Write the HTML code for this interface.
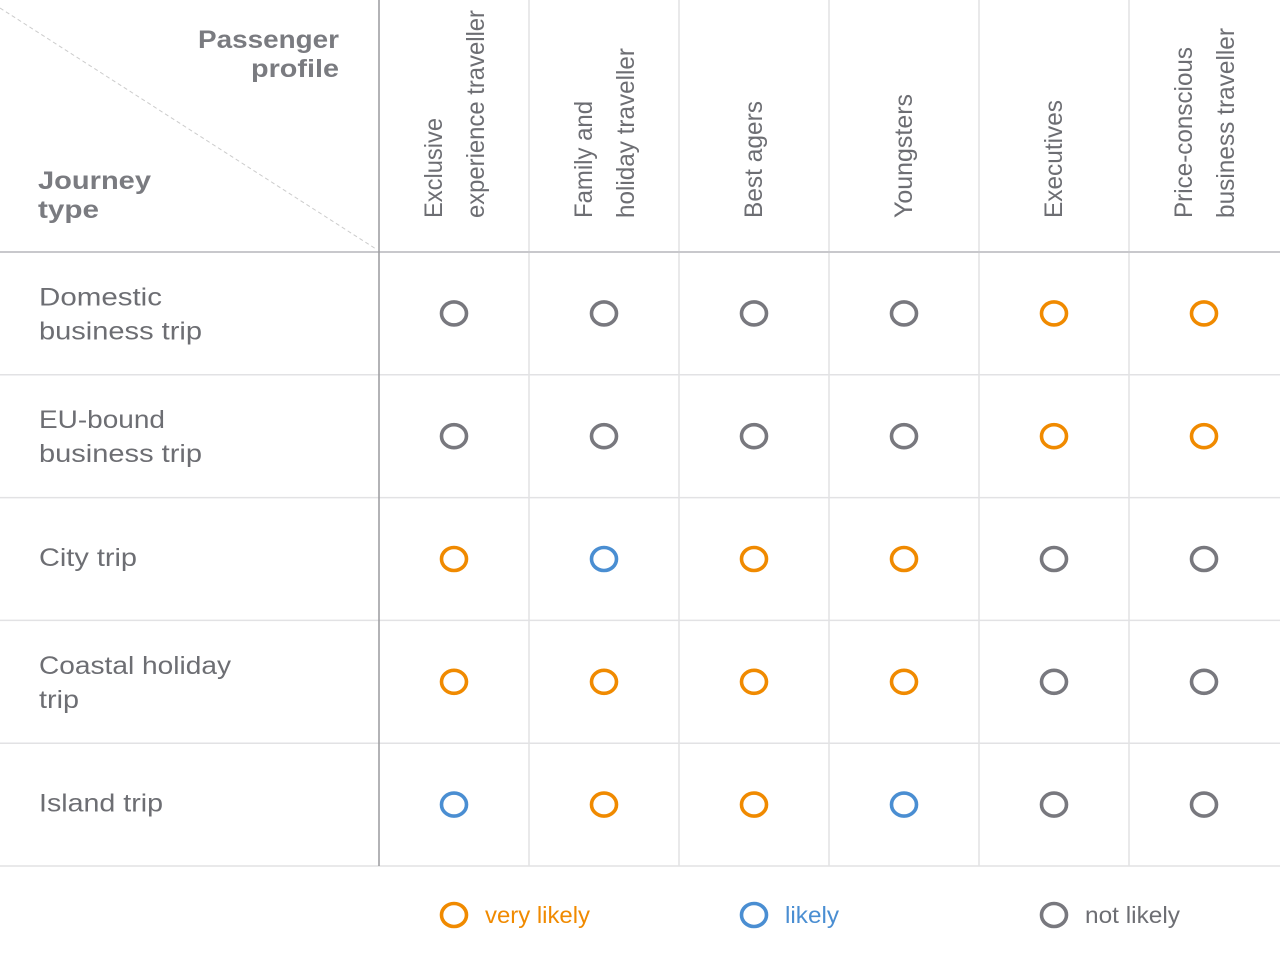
<!DOCTYPE html>
<html><head><meta charset="utf-8"><style>
html,body{margin:0;padding:0;background:#fff;}
svg{display:block;font-family:"Liberation Sans",sans-serif;}
</style></head><body>
<svg id="chart" width="1280" height="960" viewBox="0 0 1280 960">
<line x1="0" y1="8" x2="376" y2="249" stroke="#ccc" stroke-width="1" stroke-dasharray="4,3"/>
<text font-size="25" font-weight="bold" fill="#7a7b80"><tspan x="198" y="48" textLength="141" lengthAdjust="spacingAndGlyphs">Passenger</tspan><tspan x="251" y="77" textLength="88" lengthAdjust="spacingAndGlyphs">profile</tspan></text>
<text font-size="25" font-weight="bold" fill="#7a7b80"><tspan x="38" y="189" textLength="113" lengthAdjust="spacingAndGlyphs">Journey</tspan><tspan x="38" y="218" textLength="61" lengthAdjust="spacingAndGlyphs">type</tspan></text>
<g id="grid"></g><g id="labels"></g><g id="marks"></g><g id="legend"></g>
</svg>
<script>
const profiles = [["Exclusive","experience traveller"],["Family and","holiday traveller"],["Best agers"],["Youngsters"],["Executives"],["Price-conscious","business traveller"]];
const profileLens = [[100,208],[117,170],[117],[124],[118],[171,190]];
const journeys = [["Domestic","business trip"],["EU-bound","business trip"],["City trip"],["Coastal holiday","trip"],["Island trip"]];
const journeyLens = [[123,163],[126,163],[98],[192,40],[124]];
// 2 = very likely, 1 = likely, 0 = not likely
const likelihood = [
 [0,0,0,0,2,2],
 [0,0,0,0,2,2],
 [2,1,2,2,0,0],
 [2,2,2,2,0,0],
 [1,2,2,1,0,0]
];
const legendLabels = ["very likely","likely","not likely"];
const legendLens = [105,54,95];
const legendLevels = [2,1,0];
const colors = {2:"#f08a00",1:"#4a8ed2",0:"#78787e"};
const NS="http://www.w3.org/2000/svg";
const x0=379, colW=150, y0=252, rowH=122.8;
const colX = i => x0 + colW*i + colW/2;
const rowY = j => y0 + rowH*j + rowH/2;
function mk(tag, attrs, parent){const e=document.createElementNS(NS,tag);for(const k in attrs)e.setAttribute(k,attrs[k]);parent.appendChild(e);return e;}
const grid=document.getElementById('grid'), labels=document.getElementById('labels'), marks=document.getElementById('marks'), legend=document.getElementById('legend');
const nRows=journeys.length, nCols=profiles.length, yEnd=y0+rowH*nRows;
for(let i=1;i<nCols;i++){
  const l=mk('line',{x1:x0+colW*i,y1:0,x2:x0+colW*i,y2:yEnd,stroke:'#e2e2e4','stroke-width':1.5},grid);
  
  
}
for(let j=1;j<=nRows;j++){
  const l=mk('line',{x1:0,y1:y0+rowH*j,x2:1280,y2:y0+rowH*j,stroke:'#e2e2e4','stroke-width':1.5},grid);
  
  
}
const hl=mk('line',{x1:0,y1:y0,x2:1280,y2:y0,stroke:'#c8c8cc','stroke-width':2},grid);


const vl=mk('line',{x1:x0,y1:0,x2:x0,y2:yEnd,stroke:'#9a9a9e','stroke-width':1.5},grid);


profiles.forEach((p,i)=>{
  const cx=colX(i);
  p.forEach((line,k)=>{
    const lx = p.length===1 ? cx+8 : cx-12+k*42;
    const t=mk('text',{x:lx,y:218,transform:`rotate(-90 ${lx} 218)`,'font-size':25,fill:'#6d6e73',textLength:profileLens[i][k],lengthAdjust:'spacingAndGlyphs'},labels);
    t.textContent=line;
    
    
  });
});
journeys.forEach((jl,j)=>{
  const cy=rowY(j);
  jl.forEach((line,k)=>{
    const ly = jl.length===1 ? cy+7 : cy-8+k*34;
    const t=mk('text',{x:39,y:ly,'font-size':25,fill:'#6d6e73',textLength:journeyLens[j][k],lengthAdjust:'spacingAndGlyphs'},labels);
    t.textContent=line;
    
    
  });
});
likelihood.forEach((row,j)=>row.forEach((v,i)=>{
  const c=mk('ellipse',{cx:colX(i),cy:rowY(j),rx:12.5,ry:11.5,fill:'none',stroke:colors[v],'stroke-width':3.6},marks);
  
  
}));
legendLabels.forEach((lab,k)=>{
  const lx=454+300*k;
  const c=mk('ellipse',{cx:lx,cy:915,rx:12.5,ry:11.5,fill:'none',stroke:colors[legendLevels[k]],'stroke-width':3.6},legend);
  
  
  const t=mk('text',{x:lx+31,y:923,'font-size':23,fill:legendLevels[k]===0?'#6d6e73':colors[legendLevels[k]],textLength:legendLens[k],lengthAdjust:'spacingAndGlyphs'},legend);
  t.textContent=lab;
  
  
});
</script>
</body></html>
